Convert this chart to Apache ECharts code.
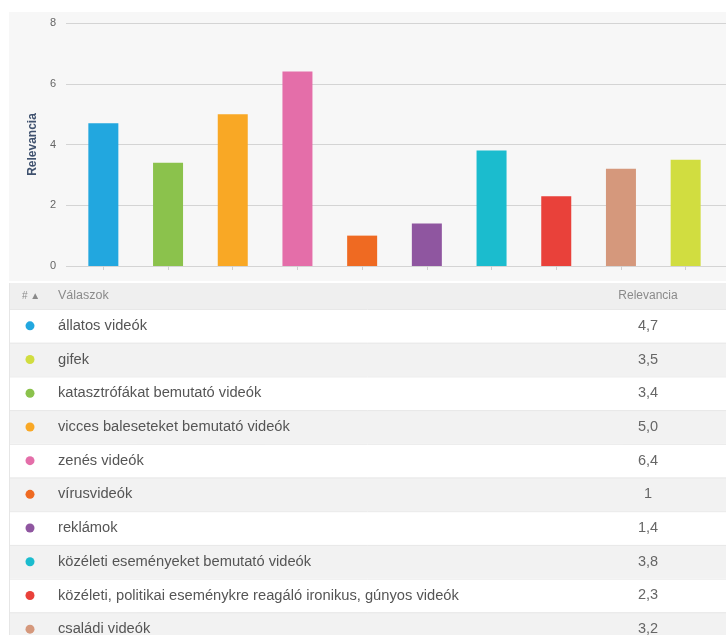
<!DOCTYPE html>
<html>
<head>
<meta charset="utf-8">
<script src="https://cdn.jsdelivr.net/npm/echarts@6/dist/echarts.min.js"></script>
<style>
  html, body { margin: 0; padding: 0; background: #ffffff; }
  #chart { width: 726px; height: 635px; }
</style>
</head>
<body>
<div id="chart"></div>
<script>
// Answers in table order, with their relevance (as printed) and colour.
const answers = [
  'állatos videók',
  'gifek',
  'katasztrófákat bemutató videók',
  'vicces baleseteket bemutató videók',
  'zenés videók',
  'vírusvideók',
  'reklámok',
  'közéleti eseményeket bemutató videók',
  'közéleti, politikai eseménykre reagáló ironikus, gúnyos videók',
  'családi videók'
];
const relevanceText = ['4,7', '3,5', '3,4', '5,0', '6,4', '1', '1,4', '3,8', '2,3', '3,2'];
const answerColors = [
  '#22a7df', '#d1dd40', '#8bc24c', '#f9a825', '#e46ea9',
  '#ef6a22', '#8f56a0', '#1bbcce', '#e9413a', '#d5987c'
];
// Order of the bars in the chart (indices into the table arrays).
const barOrder = [0, 2, 3, 4, 5, 6, 7, 8, 9, 1];
const yTicks = [0, 2, 4, 6, 8];

const relevance = relevanceText.map(t => parseFloat(t.replace(',', '.')));

const FONT = '"Liberation Sans", Arial, sans-serif';
const W = 726;

// Table layout
const tableLeft = 9;
const headerTop = 283;
const headerH = 26;
const rowTop = headerTop + headerH;
const rowH = 33.7;
const valueX = 648;

const graphics = [];
// Chart panel background
graphics.push({
  type: 'rect', z: -10, silent: true,
  shape: { x: 9, y: 12, width: W - 9, height: 269 },
  style: { fill: '#f7f7f7' }
});
// Table header
graphics.push({
  type: 'rect', z: -10, silent: true,
  shape: { x: tableLeft, y: headerTop, width: W - tableLeft, height: headerH },
  style: { fill: '#efefef' }
});
graphics.push({
  type: 'text', silent: true, x: 22, y: headerTop + headerH / 2,
  style: { text: '# ▲', fill: '#8a8a8a', font: '10px ' + FONT, textVerticalAlign: 'middle' }
});
graphics.push({
  type: 'text', silent: true, x: 58, y: headerTop + headerH / 2,
  style: { text: 'Válaszok', fill: '#8a8a8a', font: '12.5px ' + FONT, textVerticalAlign: 'middle' }
});
graphics.push({
  type: 'text', silent: true, x: valueX, y: headerTop + headerH / 2,
  style: { text: 'Relevancia', fill: '#8a8a8a', font: '12px ' + FONT, textAlign: 'center', textVerticalAlign: 'middle' }
});

// Table rows
answers.forEach((name, i) => {
  const top = rowTop + i * rowH;
  const mid = top + rowH / 2;
  graphics.push({
    type: 'rect', z: -10, silent: true,
    shape: { x: tableLeft, y: top, width: W - tableLeft, height: rowH },
    style: { fill: i % 2 === 0 ? '#ffffff' : '#f2f2f2' }
  });
  graphics.push({
    type: 'line', z: -5, silent: true,
    shape: { x1: tableLeft, y1: top + 0.5, x2: W, y2: top + 0.5 },
    style: { stroke: '#e8e8e8', lineWidth: 1 }
  });
  graphics.push({
    type: 'circle', silent: true,
    shape: { cx: 30, cy: mid, r: 4.5 },
    style: { fill: answerColors[i] }
  });
  graphics.push({
    type: 'text', silent: true, x: 58, y: mid,
    style: { text: name, fill: '#555555', font: '14.7px ' + FONT, textVerticalAlign: 'middle' }
  });
  graphics.push({
    type: 'text', silent: true, x: valueX, y: mid,
    style: { text: relevanceText[i], fill: '#666666', font: '14.5px ' + FONT, textAlign: 'center', textVerticalAlign: 'middle' }
  });
});
// Left border of the table
graphics.push({
  type: 'line', z: -5, silent: true,
  shape: { x1: tableLeft + 0.5, y1: headerTop, x2: tableLeft + 0.5, y2: 635 },
  style: { stroke: '#e6e6e6', lineWidth: 1 }
});

const chart = echarts.init(document.getElementById('chart'), null, { renderer: 'canvas' });

const yCommon = {
  type: 'value', min: yTicks[0], max: yTicks[yTicks.length - 1], interval: yTicks[1] - yTicks[0]
};

chart.setOption({
  backgroundColor: '#ffffff',
  animation: false,
  textStyle: { fontFamily: FONT },
  grid: [
    // grid carrying the horizontal gridlines (full panel width)
    { left: 66, right: 0, top: 23, bottom: 369, containLabel: false },
    // grid carrying the bars
    { left: 71, right: 8, top: 23, bottom: 369, containLabel: false }
  ],
  xAxis: [
    { gridIndex: 0, type: 'value', show: false, min: 0, max: 1 },
    {
      gridIndex: 1, type: 'category',
      data: barOrder.map(i => answers[i]),
      boundaryGap: true,
      axisLine: { show: false },
      axisTick: { show: true, interval: 0, alignWithLabel: true, length: 4, lineStyle: { color: '#cfcfcf' } },
      axisLabel: { show: false, interval: 0 }
    }
  ],
  yAxis: [
    Object.assign({}, yCommon, {
      gridIndex: 0,
      name: 'Relevancia',
      nameLocation: 'middle',
      nameGap: 20,
      nameRotate: 90,
      nameTextStyle: { color: '#3f516e', fontWeight: 'bold', fontSize: 12, fontFamily: FONT },
      axisLine: { show: false },
      axisTick: { show: false },
      axisLabel: { color: '#666666', fontSize: 11, margin: 10 },
      splitLine: { show: true, lineStyle: { color: '#d4d4d4', width: 1 } }
    }),
    Object.assign({}, yCommon, {
      gridIndex: 1,
      show: false,
      splitLine: { show: false }
    })
  ],
  series: [
    {
      type: 'bar',
      xAxisIndex: 1,
      yAxisIndex: 1,
      barWidth: 30,
      data: barOrder.map(i => ({ value: relevance[i], itemStyle: { color: answerColors[i] } }))
    }
  ],
  graphic: graphics
});
</script>
</body>
</html>
